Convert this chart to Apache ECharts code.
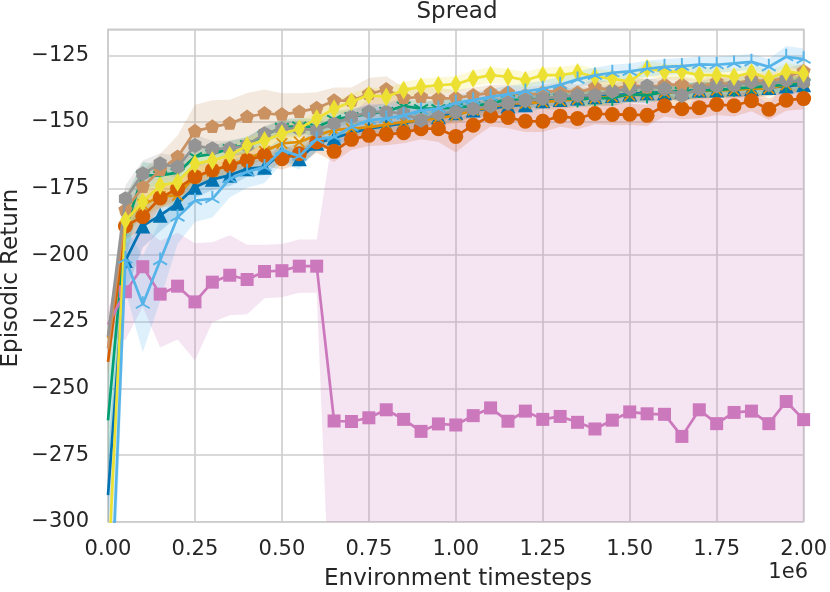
<!DOCTYPE html>
<html><head><meta charset="utf-8">
<script src="https://cdn.jsdelivr.net/npm/echarts@6/dist/echarts.min.js"></script>
<style>html,body{margin:0;padding:0;background:#fff}#c{width:830px;height:592px}</style>
</head><body><div id="c"></div>
<script>
// ---------------- data ----------------
const steps = [0,50000,100000,150000,200000,250000,300000,350000,400000,450000,500000,550000,600000,650000,700000,750000,800000,850000,900000,950000,1000000,1050000,1100000,1150000,1200000,1250000,1300000,1350000,1400000,1450000,1500000,1550000,1600000,1650000,1700000,1750000,1800000,1850000,1900000,1950000,2000000];
const xTicks = [0,250000,500000,750000,1000000,1250000,1500000,1750000,2000000];
const yTicks = [-300,-275,-250,-225,-200,-175,-150,-125];

const blueMean = [-290,-202,-189,-185,-180.5,-174.5,-171.5,-170,-167.5,-167,-161.5,-163.8,-158,-156,-154,-152.5,-151.5,-150.5,-149,-148,-146.5,-145.5,-145,-144,-143.5,-142,-141.5,-141,-140.5,-140,-139.5,-139,-139,-138.5,-138,-138,-137.5,-137.5,-137,-136.5,-136];
const blueSd   = [15,12,8,6,5,4,4,4,3,3,3,3,3,3,3,3,3,3,3,3,3,3,3,3,3,3,3,3,3,3,3,3,3,3,3,3,3,3,3,3,3];

const orangeMean = [-231,-186,-181,-178,-177.5,-170.5,-168.5,-166,-164,-161,-158,-157.5,-155,-153,-152.5,-152,-151,-150,-149.5,-148.5,-147.5,-145.5,-144.5,-143,-143,-142.5,-142,-141.5,-141,-140.5,-140,-139.5,-139,-138.5,-138.5,-138,-138,-137.5,-137.4,-136,-135];
const orangeSd   = [5,6,5,4,4,4,3,3,3,3,3,3,3,3,3,3,3,3,3,3,3,3,3,3,3,3,3,3,3,3,3,3,3,3,3,3,3,3,3,3,3];

const greenMean = [-262,-190,-170,-170,-169,-163,-162,-160,-158.5,-155,-152,-151.5,-152,-149,-148,-147,-146,-144,-145,-145,-144.5,-144,-143,-141.5,-142,-141,-141,-141.5,-141,-141,-139.5,-140,-138.5,-138.5,-138,-138,-137.5,-137,-136.5,-136,-135.5];
const greenSd   = [20,12,5,4,4,4,3,3,3,3,3,3,3,3,3,3,3,3,3,3,3,3,3,3,3,3,3,3,3,3,3,3,3,3,3,3,3,3,3,3,3];

const redMean = [-240,-189,-185.5,-178.5,-175,-170.5,-168,-166.3,-164.4,-162.5,-163.8,-161.9,-157.5,-161,-156.5,-155,-154.7,-154,-152.5,-152.5,-155.4,-151.2,-147.7,-148.3,-149.7,-149.7,-147.8,-148.7,-146.8,-147.2,-147.1,-147.5,-143.9,-145,-144.6,-143.4,-143.9,-142,-145.2,-141.8,-141.2];
const redSd   = [5,5,5,4,4,4,4,4,4,4,4,4,4,4,4,4,4,4,4,5,6,5,4,4,4,4,4,4,4,4,4,4,4,4,4,4,4,4,4,4,4];

const pinkMean = [-226,-213.7,-204.3,-214.6,-211.6,-217.5,-210.1,-207.5,-209.1,-206.1,-205.8,-204.1,-204.1,-262.2,-262.4,-261.0,-258.0,-261.6,-266.1,-263.3,-263.7,-260.2,-257.3,-262.3,-258.5,-261.6,-260.5,-262.7,-265.2,-261.9,-258.8,-259.5,-259.7,-268.0,-258.0,-263.2,-259.0,-258.5,-263.2,-254.9,-261.7];
const pinkSd   = [5,18,15,20,20,22,15,15,13,10,10,10,10,110,115,120,120,120,120,120,120,120,120,120,120,120,120,120,120,120,120,120,120,120,120,120,120,120,120,120,120];

const brownMean = [-235,-183,-174.4,-168,-163.1,-153.5,-151.8,-150.6,-148.1,-146.8,-147.2,-146.2,-144.8,-142,-142,-139.5,-137.8,-141,-140.6,-141.2,-141,-140,-139,-139,-140,-139,-138,-139,-137,-138,-136,-137,-136,-136,-137,-135,-136,-134,-135,-133,-131];
const brownSd   = [5,6,6,6,8,10,10,9,9,9,8,7,6,5,5,6,5,4,4,4,3,3,3,3,3,3,3,3,3,3,3,3,3,3,3,3,3,3,3,3,3];

const grayMean = [-230.5,-178.8,-169.4,-165.7,-166.9,-158.8,-160,-160,-158.8,-154.4,-152.5,-152.5,-153.1,-150.6,-148.1,-146.2,-146.2,-146.8,-149.3,-146.8,-146.2,-145,-144,-143,-142,-141.2,-140.5,-140,-140,-138.5,-137.5,-136.5,-137.5,-140,-137.5,-136.5,-136.2,-135,-136,-134.3,-135];
const graySd   = [4,5,5,4,4,4,3,3,3,3,3,3,3,3,3,3,3,3,3,3,3,3,3,3,3,3,3,3,3,3,3,3,3,3,3,3,3,3,3,3,3];

const yellowMean = [-320,-187,-180,-173.8,-172.6,-165.7,-164.4,-162.5,-158.8,-156.9,-154.4,-152.5,-148.7,-145,-142.4,-139.9,-140.6,-138,-136.8,-136.2,-135.8,-133.7,-132.4,-133,-134.3,-132.4,-132.4,-131.4,-133,-133.7,-134.9,-129.9,-131.1,-131.1,-132.4,-132.4,-133,-131.4,-133.7,-131.1,-131.8];
const yellowSd   = [8,5,4,4,4,4,3,3,3,3,3,3,3,3,3,3,3,3,3,3,3,3,3,3,3,3,3,3,3,3,3,3,3,3,3,3,3,3,3,3,3];

const lightblueMean = [-360,-201.4,-218.4,-202,-185.7,-179.5,-178.8,-171.3,-168.7,-166.9,-160.5,-162.8,-156.5,-155.6,-151.8,-149.3,-148.7,-147.5,-145.6,-145,-142.8,-141.8,-140.5,-139.5,-138.5,-137.5,-136,-134,-132.5,-131.5,-131,-130,-129.3,-129,-128.4,-128.5,-128,-127.4,-129.3,-125.5,-126.4];
const lightblueSd   = [30,12,18,15,10,8,7,7,6,6,5,5,4,4,4,4,4,3,3,3,3,3,3,3,3,3,3,3,3,3,3,3,3,3,3,3,3,3,3,4,4];

// ---------------- styles ----------------
const FONT = '"DejaVu Sans", sans-serif';
const TXT = '#262626';
const GRIDC = '#cccccc';

function poly(pts){ return 'M' + pts.map(p => p[0].toFixed(2)+' '+p[1].toFixed(2)).join(' L') + ' Z'; }
const bboxFix = ' M-50 -50 L-50 -50 Z M50 50 L50 50 Z';
function arms(angles, h){
  return angles.map(a => {
    const r = a*Math.PI/180, dx = Math.cos(r)*50, dy = Math.sin(r)*50;
    const px = -Math.sin(r)*h, py = Math.cos(r)*h;
    return poly([[px,py],[dx+px,dy+py],[dx-px,dy-py],[-px,-py]]);
  }).join(' ') + bboxFix;
}
function ngon(n){
  const pts=[]; for(let k=0;k<n;k++){const r=(-90+360/n*k)*Math.PI/180; pts.push([Math.cos(r)*50, Math.sin(r)*50]);}
  return poly(pts) + bboxFix;
}
const SYM = {
  hexagon: 'path://' + ngon(6),
  pentagon: 'path://' + ngon(5),
  triDown: 'path://' + arms([90,210,330], 6),
  triUp: 'path://' + arms([270,30,150], 6),
  xmark: 'path://' + arms([45,135,225,315], 6)
};

const seriesDefs = [
  {mean: blueMean, sd: blueSd, color:'#0173b2', symbol:'triangle', size:15},
  {mean: orangeMean, sd: orangeSd, color:'#de8f05', symbol:SYM.xmark, size:15},
  {mean: greenMean, sd: greenSd, color:'#029e73', symbol:SYM.triDown, size:16},
  {mean: redMean, sd: redSd, color:'#d55e00', symbol:'circle', size:15},
  {mean: pinkMean, sd: pinkSd, color:'#cc78bc', symbol:'rect', size:13},
  {mean: brownMean, sd: brownSd, color:'#ca9161', symbol:SYM.pentagon, size:15},
  {mean: grayMean, sd: graySd, color:'#949494', symbol:SYM.hexagon, size:15},
  {mean: yellowMean, sd: yellowSd, color:'#ece133', symbol:'diamond', size:[11,19]},
  {mean: lightblueMean, sd: lightblueSd, color:'#56b4e9', symbol:SYM.triUp, size:16}
];

function rgba(hex, a){
  const n = parseInt(hex.slice(1),16);
  return 'rgba('+((n>>16)&255)+','+((n>>8)&255)+','+(n&255)+','+a+')';
}

const series = [];
seriesDefs.forEach((d, k) => {
  series.push({
    type:'custom', clip:true, silent:true, animation:false, z: 1,
    data:[[0,-200]],
    renderItem: (params, api) => {
      const pts = [];
      for (let i=0;i<steps.length;i++) pts.push(api.coord([steps[i], d.mean[i]+d.sd[i]]));
      for (let i=steps.length-1;i>=0;i--) pts.push(api.coord([steps[i], d.mean[i]-d.sd[i]]));
      return {type:'polygon', shape:{points:pts}, style:{fill: rgba(d.color, 0.2), stroke:'none'}};
    }
  });
});
seriesDefs.forEach((d, k) => {
  series.push({
    type:'line', silent:true, animation:false, z: 2+k,
    data: steps.map((x,i) => i===0 ? {value:[x, d.mean[i]], symbol:'none'} : [x, d.mean[i]]),
    symbol: d.symbol, symbolSize: d.size, symbolKeepAspect:true, showAllSymbol:true,
    lineStyle:{width:2.7, color:d.color},
    itemStyle:{color:d.color, borderWidth:0}
  });
});

const chart = echarts.init(document.getElementById('c'), null, {renderer:'canvas'});
chart.setOption({
  backgroundColor:'#ffffff',
  animation:false,
  grid:{left:108, right:22, top:29.3, bottom:70.3, show:true, borderColor:GRIDC, borderWidth:1.6, backgroundColor:'#ffffff'},
  xAxis:{
    type:'value', min:xTicks[0], max:xTicks[xTicks.length-1], interval:xTicks[1]-xTicks[0],
    axisLine:{show:false}, axisTick:{show:false},
    splitLine:{show:true, lineStyle:{color:GRIDC, width:1.6}},
    axisLabel:{formatter: v => (v/1e6).toFixed(2), color:TXT, fontFamily:FONT, fontSize:21, margin:17}
  },
  yAxis:{
    type:'value', min:yTicks[0], max:-115.2, interval:yTicks[1]-yTicks[0],
    axisLine:{show:false}, axisTick:{show:false},
    splitLine:{show:true, lineStyle:{color:GRIDC, width:1.6}},
    axisLabel:{formatter: v => String(v).replace('-', '\u2212'), color:TXT, fontFamily:FONT, fontSize:21, margin:19, showMaxLabel:false}
  },
  graphic:[
    {type:'text', x:457, y:12.5, style:{text:'Spread', font:'23px '+FONT, fill:TXT, textAlign:'center', textVerticalAlign:'middle', verticalAlign:'middle'}},
    {type:'text', x:458, y:579.5, style:{text:'Environment timesteps', font:'23px '+FONT, fill:TXT, textAlign:'center', textVerticalAlign:'middle', verticalAlign:'middle'}},
    {type:'text', x:11, y:278, rotation:Math.PI/2, style:{text:'Episodic Return', font:'23px '+FONT, fill:TXT, textAlign:'center', textVerticalAlign:'middle', verticalAlign:'middle'}},
    {type:'text', x:808, y:573, style:{text:'1e6', font:'21px '+FONT, fill:TXT, textAlign:'right', textVerticalAlign:'middle', verticalAlign:'middle'}}
  ],
  series: series
});
</script>
</body></html>
